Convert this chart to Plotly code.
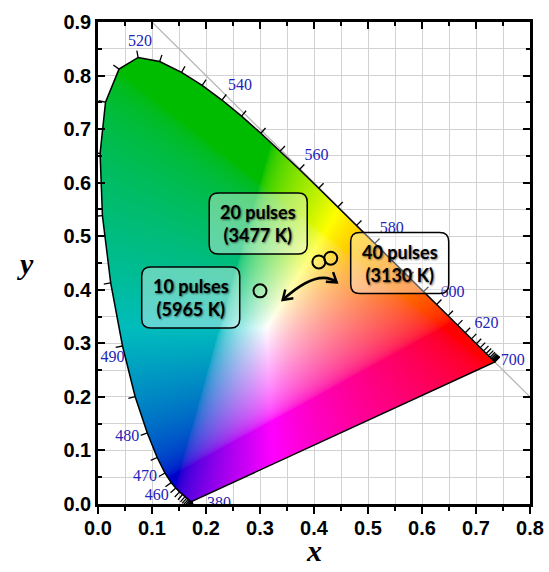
import numpy as np
import zlib, struct, base64
import plotly.graph_objects as go

# ---------------- data ----------------
wavelengths = [380, 385, 390, 395, 400, 405, 410, 415, 420, 425, 430, 435, 440, 445, 450, 455,
               460, 465, 470, 475, 480, 485, 490, 495, 500, 505, 510, 515, 520, 525, 530, 535,
               540, 545, 550, 555, 560, 565, 570, 575, 580, 585, 590, 595, 600, 605, 610, 615,
               620, 625, 630, 635, 640, 645, 650, 655, 660, 665, 670, 675, 680, 685, 690, 695, 700]
locus_x = [0.1741, 0.1740, 0.1738, 0.1736, 0.1733, 0.1730, 0.1726, 0.1721, 0.1714, 0.1703, 0.1689,
           0.1669, 0.1644, 0.1611, 0.1566, 0.1510, 0.1440, 0.1355, 0.1241, 0.1096, 0.0913, 0.0687,
           0.0454, 0.0235, 0.0082, 0.0039, 0.0139, 0.0389, 0.0743, 0.1142, 0.1547, 0.1929, 0.2296,
           0.2658, 0.3016, 0.3373, 0.3731, 0.4087, 0.4441, 0.4788, 0.5125, 0.5448, 0.5752, 0.6029,
           0.6270, 0.6482, 0.6658, 0.6801, 0.6915, 0.7006, 0.7079, 0.7140, 0.7190, 0.7230, 0.7260,
           0.7283, 0.7300, 0.7311, 0.7320, 0.7327, 0.7334, 0.7340, 0.7344, 0.7346, 0.7347]
locus_y = [0.0050, 0.0050, 0.0049, 0.0049, 0.0048, 0.0048, 0.0048, 0.0048, 0.0051, 0.0058, 0.0069,
           0.0086, 0.0109, 0.0138, 0.0177, 0.0227, 0.0297, 0.0399, 0.0578, 0.0868, 0.1327, 0.2007,
           0.2950, 0.4127, 0.5384, 0.6548, 0.7502, 0.8120, 0.8338, 0.8262, 0.8059, 0.7816, 0.7543,
           0.7243, 0.6923, 0.6589, 0.6245, 0.5896, 0.5547, 0.5202, 0.4866, 0.4544, 0.4242, 0.3965,
           0.3725, 0.3514, 0.3340, 0.3197, 0.3083, 0.2993, 0.2920, 0.2859, 0.2809, 0.2770, 0.2740,
           0.2717, 0.2700, 0.2689, 0.2680, 0.2673, 0.2666, 0.2660, 0.2656, 0.2654, 0.2653]

label_wavelengths = [380, 460, 470, 480, 490, 520, 540, 560, 580, 600, 620, 700]

sample_names = ["10 pulses", "20 pulses", "40 pulses"]
sample_cct = ["5965 K", "3477 K", "3130 K"]
sample_x = [0.300, 0.409, 0.431]
sample_y = [0.398, 0.452, 0.459]

x_ticks = [0.0, 0.1, 0.2, 0.3, 0.4, 0.5, 0.6, 0.7, 0.8]
y_ticks = [0.0, 0.1, 0.2, 0.3, 0.4, 0.5, 0.6, 0.7, 0.8, 0.9]

# ---------------- layout helpers (positions/styles) ----------------
W, H = 549, 572
ML, MR, MT, MB = 98, 19, 22, 68
XR, YR = [0.0, 0.8], [0.0, 0.9]
PW, PH = W - ML - MR, H - MT - MB
PX_X = PW / (XR[1] - XR[0])
PX_Y = PH / (YR[1] - YR[0])

label_offsets_px = [(27, -3), (-19, -8), (-20, -4), (-20, -4), (-10, -12), (2, 15), (18, 14),
                    (17, 14), (17, 14), (16, 12), (15, 15), (18, 1)]
box_centers = [(0.1717, 0.3856), (0.2967, 0.5237), (0.5587, 0.4500)]
box_size_px = (98, 61)
arrow_pts = [(0.342, 0.381), (0.4069, 0.4406), (0.442, 0.414)]

lx = np.array(locus_x)
ly = np.array(locus_y)

# ---------------- colour image of the gamut ----------------
nx, ny = 640, 720
gx = (np.arange(nx) + 0.5) * (XR[1] - XR[0]) / nx
gy = (np.arange(ny) + 0.5) * (YR[1] - YR[0]) / ny
GX, GY = np.meshgrid(gx, gy)
Yc = np.maximum(GY, 1e-6)
XX = GX / Yc
ZZ = (1 - GX - GY) / Yc
r = 3.2406 * XX - 1.5372 - 0.4986 * ZZ
g = -0.9689 * XX + 1.8758 + 0.0415 * ZZ
b = 0.0557 * XX - 0.2040 + 1.0570 * ZZ
rgb = np.clip(np.stack([r, g, b], -1), 0, None)
rgb = rgb / np.maximum(rgb.max(-1, keepdims=True), 1e-9)
rgb = np.where(rgb <= 0.0031308, 12.92 * rgb, 1.055 * np.power(rgb, 1 / 2.4) - 0.055)
R_, G_, B_ = rgb[..., 0], rgb[..., 1], rgb[..., 2]
shade = (1 - 0.26 * np.clip(G_ - R_, 0, None)) * (1 - 0.2 * np.clip(B_ - np.maximum(R_, G_), 0, None))
rgb = rgb * shade[..., None]

inside = np.zeros(GX.shape, dtype=bool)
n = len(lx)
j = n - 1
for i in range(n):
    xi, yi, xj, yj = lx[i], ly[i], lx[j], ly[j]
    cond = ((yi > GY) != (yj > GY)) & (GX < (xj - xi) * (GY - yi) / (yj - yi + 1e-12) + xi)
    inside ^= cond
    j = i

rgba = np.zeros((ny, nx, 4), dtype=np.uint8)
rgba[..., :3] = np.clip(rgb * 255, 0, 255).astype(np.uint8)
rgba[..., 3] = inside.astype(np.uint8) * 255


def png_bytes(arr):
    h, w, _ = arr.shape
    raw = b"".join(b"\x00" + arr[k].tobytes() for k in range(h))

    def chunk(t, d):
        return struct.pack(">I", len(d)) + t + d + struct.pack(">I", zlib.crc32(t + d) & 0xffffffff)

    ihdr = struct.pack(">IIBBBBB", w, h, 8, 6, 0, 0, 0)
    return b"\x89PNG\r\n\x1a\n" + chunk(b"IHDR", ihdr) + chunk(b"IDAT", zlib.compress(raw, 9)) + chunk(b"IEND", b"")


uri = "data:image/png;base64," + base64.b64encode(png_bytes(rgba)).decode()

# ---------------- locus normals (pixel space) ----------------
sx, sy = lx * PX_X, ly * PX_Y
tx = np.gradient(sx)
ty = np.gradient(sy)
nrm = np.hypot(tx, ty)
nrm[nrm == 0] = 1
nx_o, ny_o = -ty / nrm, tx / nrm  # outward

tick_len = 7
tkx, tky = [], []
for k in range(len(wavelengths)):
    tkx += [lx[k], lx[k] + nx_o[k] * tick_len / PX_X, None]
    tky += [ly[k], ly[k] + ny_o[k] * tick_len / PX_Y, None]

lab_x, lab_y = [], []
for wl, (ox, oy) in zip(label_wavelengths, label_offsets_px):
    k = wavelengths.index(wl)
    lab_x.append(lx[k] + ox / PX_X)
    lab_y.append(ly[k] + oy / PX_Y)

# ---------------- figure ----------------
fig = go.Figure()

fig.add_trace(go.Scatter(x=[0.1, 0.8], y=[0.9, 0.2], mode="lines",
                         line=dict(color="#b4b4b4", width=1.2), hoverinfo="skip", showlegend=False))

fig.add_trace(go.Image(source=uri, x0=(XR[1] - XR[0]) / nx / 2, y0=(YR[1] - YR[0]) / ny / 2,
                       dx=(XR[1] - XR[0]) / nx, dy=(YR[1] - YR[0]) / ny, hoverinfo="skip"))

fig.add_trace(go.Scatter(x=list(lx) + [lx[0]], y=list(ly) + [ly[0]], mode="lines",
                         line=dict(color="black", width=1.5), hoverinfo="skip", showlegend=False))

fig.add_trace(go.Scatter(x=tkx, y=tky, mode="lines", line=dict(color="black", width=1.3),
                         hoverinfo="skip", showlegend=False))

fig.add_trace(go.Scatter(x=lab_x, y=lab_y, mode="text", text=[str(w) for w in label_wavelengths],
                         textposition="middle center", cliponaxis=True,
                         textfont=dict(family="Liberation Serif", size=16, color="rgb(35,35,185)"),
                         hoverinfo="skip", showlegend=False))

fig.add_trace(go.Scatter(x=sample_x, y=sample_y, mode="markers",
                         marker=dict(size=13, color="rgba(0,0,0,0)", line=dict(color="black", width=2)),
                         hoverinfo="skip", showlegend=False))

fig.add_trace(go.Scatter(x=[None], y=[None], xaxis="x2", yaxis="y2", showlegend=False))

# boxes
shapes = []
hw = box_size_px[0] / 2 / PX_X
hh = box_size_px[1] / 2 / PX_Y
rx, ry = 9 / PX_X, 9 / PX_Y
for (cx, cy) in box_centers:
    x0, x1, y0, y1 = cx - hw, cx + hw, cy - hh, cy + hh
    path = (f"M{x0+rx},{y0} L{x1-rx},{y0} Q{x1},{y0} {x1},{y0+ry} L{x1},{y1-ry} Q{x1},{y1} {x1-rx},{y1} "
            f"L{x0+rx},{y1} Q{x0},{y1} {x0},{y1-ry} L{x0},{y0+ry} Q{x0},{y0} {x0+rx},{y0} Z")
    shapes.append(dict(type="path", path=path, xref="x", yref="y", layer="above",
                       fillcolor="rgba(255,255,255,0.38)", line=dict(color="black", width=1.5)))

# curved double arrow
(p0, pc, p2) = arrow_pts
shapes.append(dict(type="path", xref="x", yref="y", layer="above",
                   path=f"M{p0[0]},{p0[1]} Q{pc[0]},{pc[1]} {p2[0]},{p2[1]}",
                   line=dict(color="black", width=2.5)))
head_len, head_w = 9, 6
for tip, ref in [(p0, pc), (p2, pc)]:
    ux, uy = (tip[0] - ref[0]) * PX_X, (tip[1] - ref[1]) * PX_Y
    L = np.hypot(ux, uy)
    ux, uy = ux / L, uy / L
    bx, by = -ux * head_len, -uy * head_len
    qx, qy = -uy * head_w, ux * head_w
    a = (tip[0] + (bx + qx) / PX_X, tip[1] + (by + qy) / PX_Y)
    c = (tip[0] + (bx - qx) / PX_X, tip[1] + (by - qy) / PX_Y)
    shapes.append(dict(type="path", xref="x", yref="y", layer="above",
                       path=f"M{a[0]},{a[1]} L{tip[0]},{tip[1]} L{c[0]},{c[1]}",
                       line=dict(color="black", width=2.5)))

annotations = []
for i in range(len(sample_names)):
    cx, cy = box_centers[i]
    annotations.append(dict(x=cx, y=cy, xref="x", yref="y", showarrow=False,
                            text=f"<b>{sample_names[i]}</b><br><b>({sample_cct[i]})</b>",
                            font=dict(family="Lato", size=18, color="black",
                                      shadow="1px 1px 2px rgba(0,0,0,0.55)"),
                            align="center"))

annotations.append(dict(x=0.5, y=-(550 - (H - MB)) / PH, xref="paper", yref="paper", showarrow=False,
                        text="<b><i>x</i></b>", yanchor="middle",
                        font=dict(family="Liberation Serif", size=30, color="black")))
annotations.append(dict(x=(15 - ML) / PW, y=(H - MB - 263) / PH, xref="paper", yref="paper",
                        showarrow=False, text="<b><i>y</i></b>",
                        font=dict(family="Liberation Serif", size=30, color="black")))

tickfont = dict(family="Liberation Sans", size=20, color="black")
grid = "#d2d2d2"
fig.update_layout(
    width=W, height=H, margin=dict(l=ML, r=MR, t=MT, b=MB, autoexpand=False),
    paper_bgcolor="white", plot_bgcolor="white", showlegend=False,
    shapes=shapes, annotations=annotations,
    xaxis=dict(range=XR, tickvals=x_ticks, ticktext=[f"<b>{v:.1f}</b>" for v in x_ticks],
               ticks="outside", ticklen=7, tickwidth=2, tickcolor="black", automargin=False,
               ticklabelstandoff=-3,
               showline=True, linewidth=2.5, linecolor="black", mirror=False,
               showgrid=True, gridcolor=grid, gridwidth=1, zeroline=False, tickfont=tickfont,
               minor=dict(dtick=0.05, ticks="outside", ticklen=4, tickwidth=2, tickcolor="black",
                          showgrid=True, gridcolor=grid, gridwidth=1)),
    yaxis=dict(range=YR, tickvals=y_ticks, ticktext=[f"<b>{v:.1f}</b>" for v in y_ticks],
               ticks="inside", ticklen=7, tickwidth=2, tickcolor="black", scaleanchor=False,
               automargin=False,
               showline=True, linewidth=2.5, linecolor="black", mirror=False,
               showgrid=True, gridcolor=grid, gridwidth=1, zeroline=False, tickfont=tickfont,
               minor=dict(dtick=0.05, ticks="inside", ticklen=4, tickwidth=2, tickcolor="black",
                          showgrid=True, gridcolor=grid, gridwidth=1)),
    xaxis2=dict(range=XR, overlaying="x", side="top", tickvals=x_ticks, showticklabels=False,
                ticks="inside", ticklen=7, tickwidth=2, tickcolor="black", automargin=False,
                showline=True, linewidth=2.5, linecolor="black", showgrid=False, zeroline=False,
                minor=dict(dtick=0.05, ticks="inside", ticklen=4, tickwidth=2, tickcolor="black")),
    yaxis2=dict(range=YR, overlaying="y", side="right", tickvals=y_ticks, showticklabels=False,
                ticks="inside", ticklen=7, tickwidth=2, tickcolor="black", automargin=False,
                showline=True, linewidth=2.5, linecolor="black", showgrid=False, zeroline=False,
                minor=dict(dtick=0.05, ticks="inside", ticklen=4, tickwidth=2, tickcolor="black")),
)

fig.write_html("out.html", config={"displayModeBar": False},
               post_script="document.body.style.margin='0px';")
